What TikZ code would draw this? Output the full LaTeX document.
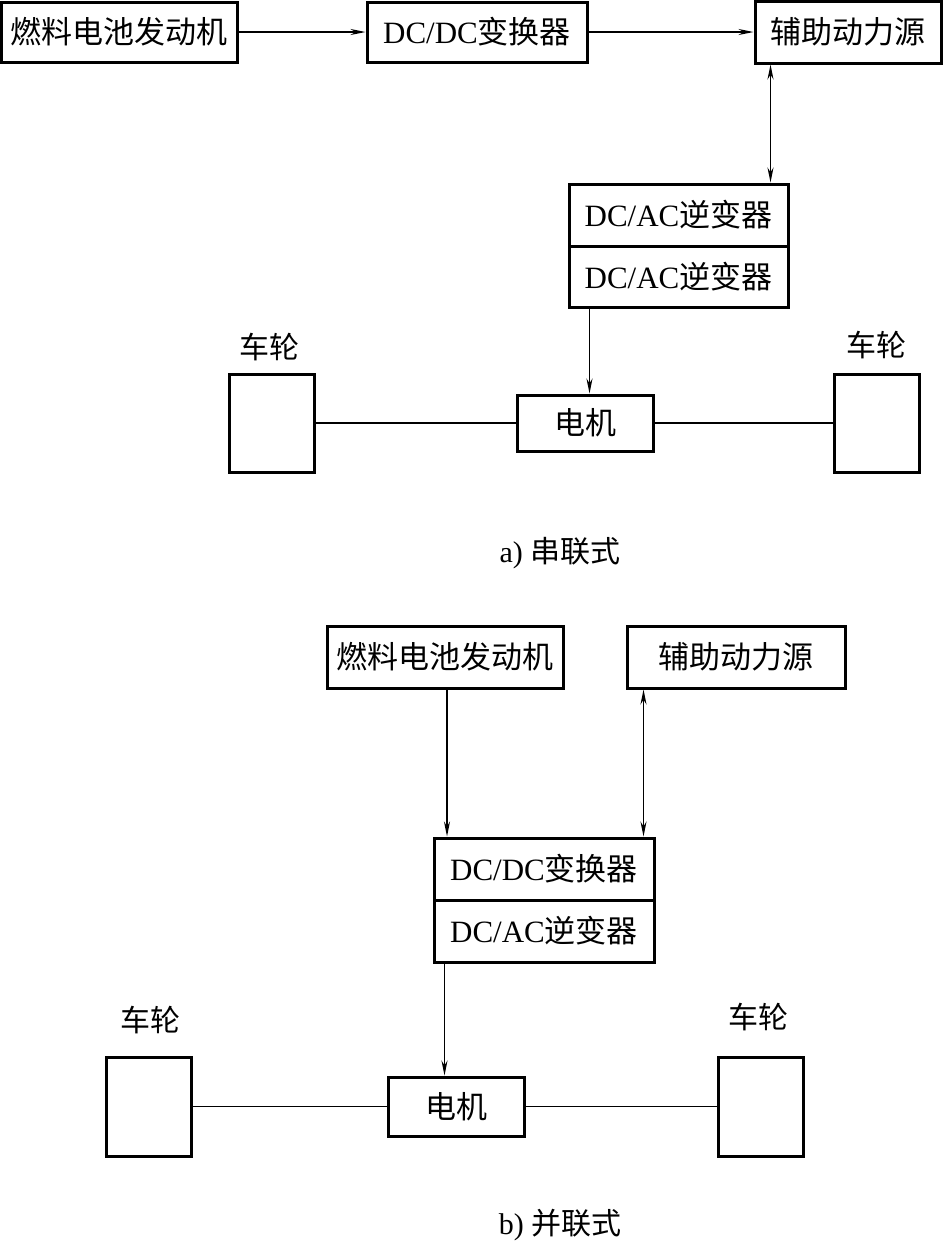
\documentclass[tikz,border=0pt]{standalone}
\usepackage{fontspec}
\setmainfont{Liberation Serif}
\newfontfamily\cjk{Noto Sans CJK SC}
\usetikzlibrary{arrows.meta}
\begin{document}
\begin{tikzpicture}[x=1pt,y=-1pt,
  box/.style={draw, line width=3pt, inner sep=0pt, font=\fontsize{31}{36}\selectfont},
  wheel/.style={draw, line width=3pt, inner sep=0pt, minimum width=85pt, minimum height=98pt},
  lbl/.style={inner sep=0pt, font=\fontsize{30}{36}\selectfont},
  conn/.style={line width=1.4pt},
  arr/.style={conn, -{Stealth[length=15pt,width=6pt]}},
  darr/.style={conn, {Stealth[length=15pt,width=6pt]}-{Stealth[length=15pt,width=6pt]}}]
\useasboundingbox (0,0) rectangle (944,1243);
% ---- a) series
\node[box, minimum width=236pt, minimum height=60pt] (f1) at (119,32) {\cjk 燃料电池发动机};
\node[box, minimum width=220pt, minimum height=60pt] (d1) at (477,32) {DC/DC{\cjk 变换器}};
\node[box, minimum width=186pt, minimum height=62pt] (a1) at (848,32) {\cjk 辅助动力源};
\node[box, minimum width=219pt, minimum height=62pt] (i1a) at (678.5,215) {DC/AC{\cjk 逆变器}};
\node[box, minimum width=219pt, minimum height=61pt] (i1b) at (678.5,276.5) {DC/AC{\cjk 逆变器}};
\node[box, minimum width=136pt, minimum height=56pt] (m1) at (585,423) {\cjk 电机};
\node[wheel] (wl1) at (271.5,423) {};
\node[wheel] (wr1) at (876.5,423) {};
\node[lbl] (tl1) at (269,347) {\cjk 车轮};
\node[lbl] (tr1) at (876,345) {\cjk 车轮};
\node[lbl] (ca) at (560,553) {a) {\cjk 串联式}};
\draw[arr] (f1.east) -- (d1.west);
\draw[arr] (d1.east) -- (a1.west);
\draw[darr] ([xshift=17pt]a1.south west) -- ([xshift=17pt]a1.south west |- i1a.north);
\draw[arr] ([xshift=22pt]i1b.south west) -- ([xshift=22pt]i1b.south west |- m1.north);
\draw[conn] (wl1.east) -- (m1.west);
\draw[conn] (m1.east) -- (wr1.west);
% ---- b) parallel
\node[box, minimum width=236pt, minimum height=62pt] (f2) at (445,657) {\cjk 燃料电池发动机};
\node[box, minimum width=218pt, minimum height=62pt] (a2) at (736,657) {\cjk 辅助动力源};
\node[box, minimum width=220pt, minimum height=62pt] (d2) at (544,869) {DC/DC{\cjk 变换器}};
\node[box, minimum width=220pt, minimum height=62pt] (i2) at (544,931) {DC/AC{\cjk 逆变器}};
\node[box, minimum width=136pt, minimum height=59pt] (m2) at (456,1106.5) {\cjk 电机};
\node[wheel, minimum height=99pt] (wl2) at (148.5,1106.5) {};
\node[wheel, minimum height=99pt] (wr2) at (760.5,1106.5) {};
\node[lbl] (tl2) at (150,1020) {\cjk 车轮};
\node[lbl] (tr2) at (758,1017) {\cjk 车轮};
\node[lbl] (cb) at (560,1225) {b) {\cjk 并联式}};
\draw[arr] ([xshift=2pt]f2.south) -- ([xshift=2pt]f2.south |- d2.north);
\draw[darr] ([xshift=18pt]a2.south west) -- ([xshift=18pt]a2.south west |- d2.north);
\draw[arr] ([xshift=12pt]i2.south west) -- ([xshift=12pt]i2.south west |- m2.north);
\draw[conn] (wl2.east) -- (m2.west);
\draw[conn] (m2.east) -- (wr2.west);
\end{tikzpicture}
\end{document}
